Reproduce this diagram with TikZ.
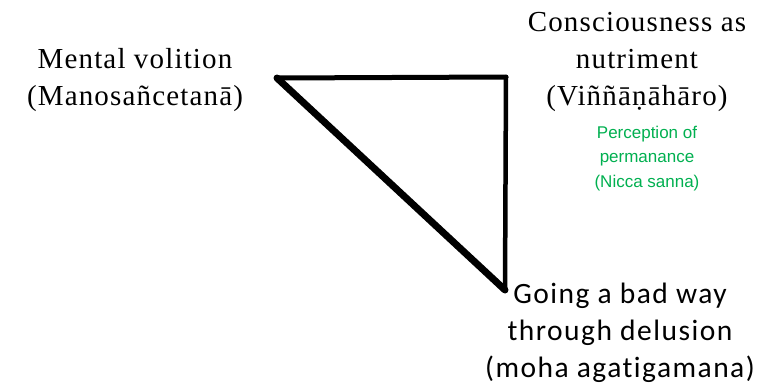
\documentclass[tikz,border=0pt]{standalone}
\usepackage{fontspec}
\newfontfamily\tnrfont[LetterSpace=4]{Liberation Serif}
\newfontfamily\calfont[LetterSpace=5,Ligatures=NoCommon]{Carlito}
\newfontfamily\arifont{Liberation Sans}
\definecolor{pgreen}{RGB}{0,176,80}
\begin{document}
\begin{tikzpicture}[x=1pt,y=-1pt,
  serlabel/.style={align=center,inner sep=0pt,anchor=north,font=\tnrfont\fontsize{29}{37}\selectfont},
  callabel/.style={align=center,inner sep=0pt,anchor=north,font=\calfont\fontsize{29.5}{37}\selectfont},
  greenlabel/.style={align=center,inner sep=0pt,anchor=north,text=pgreen,font=\arifont\fontsize{17}{24.5}\selectfont},
  edge/.style={draw=black,line cap=round,line join=round}]
\useasboundingbox (0,0) rectangle (769,391);
\fill[white] (0,0) rectangle (769,391);
\coordinate (A) at (277,78);
\coordinate (B) at (506,77);
\coordinate (C) at (505,290);
\draw[edge,line width=5pt] (A) -- (B);
\draw[edge,line width=4.5pt] (B) -- (C);
\draw[edge,line width=7pt] (A) -- (C);
\node[serlabel] (mv) at (135,48) {Mental volition\\(Manosañcetanā)};
\node[serlabel] (cn) at (637,12) {Consciousness as\\nutriment\\(Viññāṇāhāro)};
\node[greenlabel] (pp) at (647,125.5) {Perception of\\permanance\\(Nicca sanna)};
\node[callabel] (gb) at (620,283) {Going a bad way\\through delusion\\(moha agatigamana)};
\end{tikzpicture}
\end{document}
